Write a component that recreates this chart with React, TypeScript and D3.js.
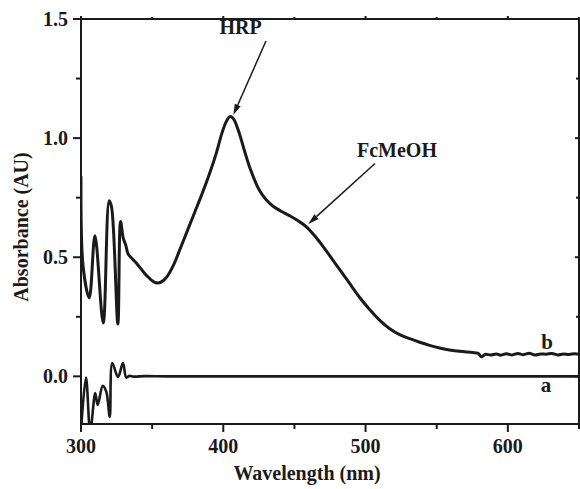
import React from "react";
import * as d3 from "d3";

const wavelengthsB = [300, 301.5, 305.8, 309.8, 315.6, 319.8, 321.5, 325.9, 327.8, 329.7, 331.5, 333, 335, 339, 346, 352, 356, 360, 365, 370, 375, 380, 385, 390, 395, 399, 402, 404.5, 407, 411, 415, 419, 425, 430, 435, 441, 447, 452, 458, 465, 472, 478, 484, 490, 496, 503, 510, 517, 524, 531, 538, 545, 552, 559, 566, 575, 579, 581.5, 584, 588, 592, 595, 599, 603, 607, 611, 615, 619, 623, 627, 631, 635, 639, 643, 647, 650];
const absorbanceB = [0.84, 0.46, 0.33, 0.59, 0.224, 0.737, 0.71, 0.22, 0.65, 0.58, 0.55, 0.515, 0.5, 0.475, 0.424, 0.394, 0.395, 0.415, 0.467, 0.54, 0.615, 0.69, 0.765, 0.845, 0.935, 1.02, 1.068, 1.09, 1.082, 1.025, 0.945, 0.87, 0.785, 0.742, 0.714, 0.692, 0.673, 0.655, 0.63, 0.585, 0.53, 0.48, 0.43, 0.38, 0.33, 0.28, 0.235, 0.2, 0.175, 0.158, 0.143, 0.13, 0.119, 0.111, 0.105, 0.1, 0.097, 0.082, 0.092, 0.09, 0.094, 0.089, 0.095, 0.09, 0.096, 0.091, 0.097, 0.09, 0.094, 0.093, 0.096, 0.09, 0.094, 0.092, 0.095, 0.093];

const wavelengthsA = [300, 303.5, 306.5, 310, 311.7, 315.3, 317.8, 320.2, 322, 326, 329.5, 331.8, 334, 337, 345, 360, 400, 450, 500, 550, 600, 650];
const absorbanceA = [-0.23, -0.005, -0.23, -0.07, -0.12, -0.04, -0.065, -0.17, 0.056, -0.003, 0.056, -0.005, 0.002, -0.001, 0.001, 0, 0, 0, 0, 0, 0, 0];

const xMajorTicks = [300, 400, 500, 600];
const xMinorTicks = [350, 450, 550, 650];
const yMajorTicks = [0.0, 0.5, 1.0, 1.5];
const yMinorTicks = [-0.25, 0.25, 0.75, 1.25];

const FONT = "'Liberation Serif', 'Times New Roman', serif";

export default function App() {
  const W = 580, H = 489;
  const left = 81, right = 579, top = 19, bottom = 424;
  const x = d3.scaleLinear().domain([300, 650]).range([left, right]);
  const y = d3.scaleLinear().domain([-0.2, 1.5]).range([bottom, top]);

  const line = d3.line<[number, number]>()
    .x((d) => x(d[0]))
    .y((d) => y(d[1]))
    .curve(d3.curveCatmullRom.alpha(0.5));

  const dataB = wavelengthsB.map((w, i) => [w, absorbanceB[i]] as [number, number]);
  const dataA = wavelengthsA.map((w, i) => [w, absorbanceA[i]] as [number, number]);

  const arrow = (x1: number, y1: number, x2: number, y2: number, key: string) => {
    const ang = Math.atan2(y2 - y1, x2 - x1);
    const len = 11, half = 3.2;
    const bx = x2 - len * Math.cos(ang), by = y2 - len * Math.sin(ang);
    const px = -Math.sin(ang) * half, py = Math.cos(ang) * half;
    return (
      <g key={key}>
        <line x1={x1} y1={y1} x2={bx} y2={by} stroke="#1a1a1a" strokeWidth={1.5} />
        <polygon points={`${x2},${y2} ${bx + px},${by + py} ${bx - px},${by - py}`} fill="#1a1a1a" />
      </g>
    );
  };

  return (
    <svg width={W} height={H} style={{ position: "absolute", left: 0, top: 0, background: "#fff" }} fontFamily={FONT}>
      <defs>
        <clipPath id="plotClip">
          <rect x={left} y={top} width={right - left} height={bottom - top} />
        </clipPath>
      </defs>
      <rect x={0} y={0} width={W} height={H} fill="#fff" />
      <g clipPath="url(#plotClip)">
        <path d={line(dataA) || ""} fill="none" stroke="#1a1a1a" strokeWidth={2.6} strokeLinejoin="round" />
        <path d={line(dataB) || ""} fill="none" stroke="#1a1a1a" strokeWidth={3} strokeLinejoin="round" />
      </g>
      {/* frame */}
      <rect x={left} y={top} width={right - left} height={bottom - top} fill="none" stroke="#1a1a1a" strokeWidth={2} />
      {/* x ticks */}
      {xMajorTicks.map((t) => (
        <g key={"xm" + t}>
          <line x1={x(t)} x2={x(t)} y1={bottom} y2={bottom + 8} stroke="#1a1a1a" strokeWidth={2} />
          <line x1={x(t)} x2={x(t)} y1={top} y2={top - 3} stroke="#1a1a1a" strokeWidth={2} />
          <text x={x(t)} y={453} textAnchor="middle" fontSize={20} fontWeight="bold" fill="#1a1a1a">{t}</text>
        </g>
      ))}
      {xMinorTicks.map((t) => (
        <g key={"xn" + t}>
          <line x1={x(t)} x2={x(t)} y1={bottom} y2={bottom + 5} stroke="#1a1a1a" strokeWidth={2} />
          <line x1={x(t)} x2={x(t)} y1={top} y2={top - 2} stroke="#1a1a1a" strokeWidth={2} />
        </g>
      ))}
      {/* y ticks */}
      {yMajorTicks.map((t) => (
        <g key={"ym" + t}>
          <line x1={left - 8} x2={left} y1={y(t)} y2={y(t)} stroke="#1a1a1a" strokeWidth={2} />
          <line x1={right - 4} x2={right} y1={y(t)} y2={y(t)} stroke="#1a1a1a" strokeWidth={2} />
          <text x={68} y={y(t)} dy="0.35em" textAnchor="end" fontSize={20} fontWeight="bold" fill="#1a1a1a">{t.toFixed(1)}</text>
        </g>
      ))}
      {yMinorTicks.filter((t) => t > -0.2).map((t) => (
        <g key={"yn" + t}>
          <line x1={left - 5} x2={left} y1={y(t)} y2={y(t)} stroke="#1a1a1a" strokeWidth={2} />
          <line x1={right - 3} x2={right} y1={y(t)} y2={y(t)} stroke="#1a1a1a" strokeWidth={2} />
        </g>
      ))}
      {/* axis titles */}
      <text x={307} y={480} textAnchor="middle" fontSize={20} fontWeight="bold" fill="#1a1a1a">Wavelength (nm)</text>
      <text transform="translate(28,227) rotate(-90)" textAnchor="middle" fontSize={20} fontWeight="bold" fill="#1a1a1a">Absorbance (AU)</text>
      {/* annotations */}
      <text x={240.5} y={34} textAnchor="middle" fontSize={20} fontWeight="bold" fill="#1a1a1a">HRP</text>
      {arrow(266, 41, 233.3, 115, "a1")}
      <text x={397} y={157} textAnchor="middle" fontSize={20} fontWeight="bold" fill="#1a1a1a">FcMeOH</text>
      {arrow(375, 163.5, 308.3, 224, "a2")}
      <text x={547} y={342} dy="0.35em" textAnchor="middle" fontSize={21} fontWeight="bold" fill="#1a1a1a">b</text>
      <text x={546} y={385} dy="0.35em" textAnchor="middle" fontSize={21} fontWeight="bold" fill="#1a1a1a">a</text>
    </svg>
  );
}
